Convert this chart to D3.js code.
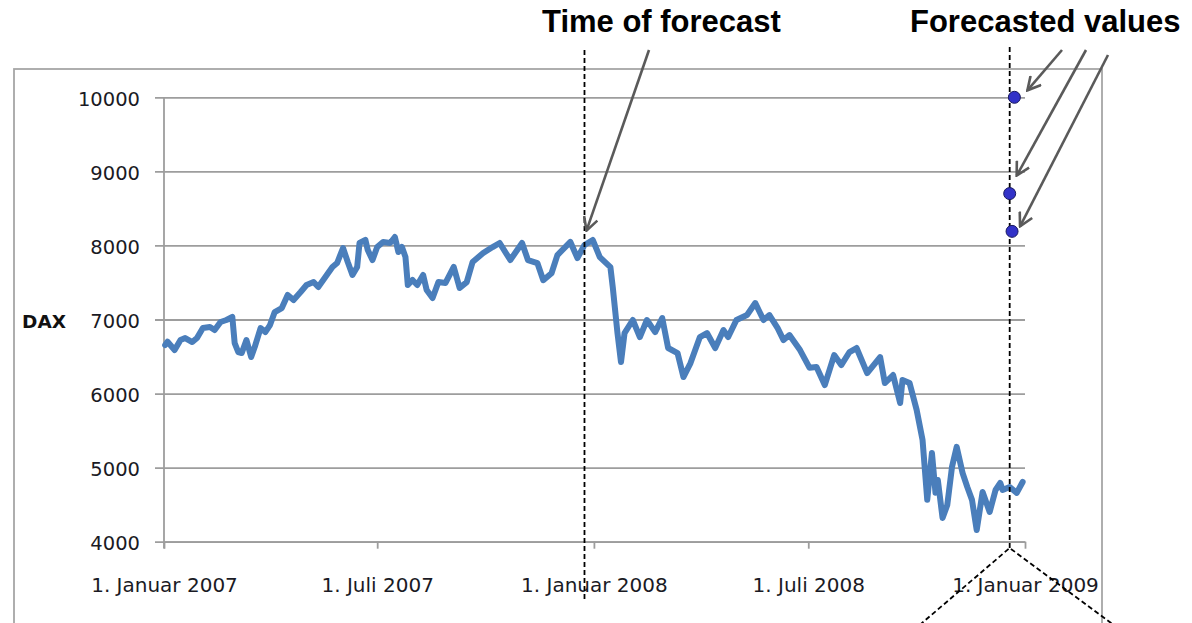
<!DOCTYPE html>
<html>
<head>
<meta charset="utf-8">
<script src="https://cdn.jsdelivr.net/npm/d3@7"></script>
<style>
  body { margin: 0; background: #fff; }
  svg { display: block; }
</style>
</head>
<body>
<svg width="1192" height="623"></svg>
<script>
// DAX closing values
var dates = [
  "2007-01-02","2007-01-04","2007-01-10","2007-01-15","2007-01-19","2007-01-25","2007-01-29","2007-02-03",
  "2007-02-09","2007-02-13","2007-02-18","2007-02-23","2007-02-28","2007-03-02","2007-03-05","2007-03-08",
  "2007-03-12","2007-03-16","2007-03-19","2007-03-24","2007-03-28","2007-04-01","2007-04-05","2007-04-11",
  "2007-04-16","2007-04-21","2007-04-27","2007-05-02","2007-05-08","2007-05-12","2007-05-18","2007-05-24",
  "2007-05-28","2007-06-02","2007-06-06","2007-06-10","2007-06-14","2007-06-16","2007-06-21","2007-06-23",
  "2007-06-27","2007-07-01","2007-07-06","2007-07-12","2007-07-16","2007-07-19","2007-07-22","2007-07-25",
  "2007-07-27","2007-07-31","2007-08-04","2007-08-09","2007-08-12","2007-08-17","2007-08-22","2007-08-28",
  "2007-09-04","2007-09-09","2007-09-15","2007-09-20","2007-09-29","2007-10-07","2007-10-13","2007-10-22",
  "2007-11-01","2007-11-06","2007-11-14","2007-11-19","2007-11-26","2007-12-01","2007-12-12","2007-12-18",
  "2007-12-24","2007-12-31","2008-01-06","2008-01-15","2008-01-17","2008-01-21","2008-01-24","2008-01-27",
  "2008-02-03","2008-02-09","2008-02-15","2008-02-22","2008-02-28","2008-03-04","2008-03-12","2008-03-17",
  "2008-03-23","2008-03-31","2008-04-06","2008-04-13","2008-04-20","2008-04-24","2008-05-01","2008-05-10",
  "2008-05-17","2008-05-24","2008-05-29","2008-06-05","2008-06-10","2008-06-15","2008-06-24","2008-07-02",
  "2008-07-08","2008-07-15","2008-07-23","2008-07-29","2008-08-05","2008-08-11","2008-08-20","2008-08-31",
  "2008-09-04","2008-09-11","2008-09-17","2008-09-19","2008-09-25","2008-10-01","2008-10-06","2008-10-10",
  "2008-10-14","2008-10-17","2008-10-19","2008-10-23","2008-10-27","2008-10-31","2008-11-04","2008-11-09",
  "2008-11-13","2008-11-17","2008-11-21","2008-11-26","2008-12-02","2008-12-07","2008-12-11","2008-12-13",
  "2008-12-19","2008-12-25","2008-12-30"
];
var dax = [
  6656,6700,6588,6723,6750,6696,6750,6885,
  6899,6858,6966,6993,7034,6682,6561,6547,
  6723,6493,6628,6885,6830,6925,7101,7155,
  7331,7263,7371,7466,7506,7439,7574,7709,
  7763,7965,7776,7601,7709,8033,8074,7938,
  7803,7979,8047,8033,8114,7911,7979,7844,
  7466,7533,7466,7601,7398,7290,7506,7493,
  7709,7425,7505,7776,7897,7978,8033,7803,
  8033,7803,7762,7530,7625,7870,8047,7830,
  8006,8074,7843,7708,7438,6817,6426,6817,
  6993,6763,6993,6830,7020,6615,6547,6223,
  6412,6763,6817,6615,6857,6763,6993,7060,
  7222,6993,7060,6884,6722,6790,6587,6350,
  6358,6115,6520,6385,6561,6615,6277,6493,
  6142,6250,5872,6183,6142,5780,5375,4565,
  5199,4660,4833,4320,4495,5008,5280,4928,
  4739,4565,4158,4671,4401,4698,4793,4698,
  4739,4660,4806
];

var forecastDates = ["2008-12-23","2008-12-19","2008-12-21"];
var forecastValues = [10000, 8700, 8190];

var forecastTime = "2007-12-24";   // "Time of forecast"
var forecastHorizon = "2008-12-19";

var yTicks = [4000,5000,6000,7000,8000,9000,10000];
var xTickDates = ["2007-01-01","2007-07-01","2008-01-01","2008-07-01","2009-01-01"];
var xTickLabels = ["1. Januar 2007","1. Juli 2007","1. Januar 2008","1. Juli 2008","1. Januar 2009"];

var parse = d3.timeParse("%Y-%m-%d");
var data = dates.map(function(d, i) { return { date: parse(d), value: dax[i] }; });
var fc = forecastDates.map(function(d, i) { return { date: parse(d), value: forecastValues[i] }; });

var svg = d3.select("svg");

var x = d3.scaleTime()
  .domain([parse("2007-01-01"), parse("2009-01-01")])
  .range([164, 1025]);
var y = d3.scaleLinear()
  .domain([4000, 10000])
  .range([541.7, 97.3]);

// outer chart border
svg.append("rect")
  .attr("x", 14).attr("y", 69)
  .attr("width", 1088).attr("height", 600)
  .attr("fill", "none")
  .attr("stroke", "#a6a6a6")
  .attr("stroke-width", 1.8);

// y axis with gridlines
var yAxis = svg.append("g")
  .attr("transform", "translate(155,0)")
  .call(d3.axisLeft(y).tickValues(yTicks).tickSize(-870).tickPadding(15).tickFormat(d3.format("d")));
yAxis.select(".domain").remove();
yAxis.selectAll("line").attr("stroke", "#9d9d9d").attr("stroke-width", 1.8);
yAxis.selectAll("text")
  .attr("font-family", "DejaVu Sans")
  .attr("font-size", 19.5)
  .attr("fill", "#1a1a24")
  .attr("dy", "0.42em");

// x axis
var xAxis = svg.append("g")
  .attr("transform", "translate(0,541.7)")
  .call(d3.axisBottom(x)
    .tickValues(xTickDates.map(parse))
    .tickSize(7).tickSizeOuter(0)
    .tickFormat(function(d, i) { return xTickLabels[i]; }));
xAxis.select(".domain").attr("stroke", "#9d9d9d").attr("stroke-width", 1.8);
xAxis.selectAll("line").attr("stroke", "#9d9d9d").attr("stroke-width", 1.8);
xAxis.selectAll("text")
  .attr("font-family", "DejaVu Sans")
  .attr("font-size", 20)
  .attr("fill", "#1a1a24")
  .attr("y", 50).attr("dy", 0);

// vertical value axis line
svg.append("line")
  .attr("x1", x.range()[0]).attr("x2", x.range()[0])
  .attr("y1", y(10000)).attr("y2", 548.5)
  .attr("stroke", "#9d9d9d").attr("stroke-width", 1.8);

svg.append("text")
  .attr("x", 44).attr("y", 321.7)
  .attr("dy", "0.36em")
  .attr("text-anchor", "middle")
  .attr("font-family", "DejaVu Sans")
  .attr("font-weight", "bold")
  .attr("font-size", 18.5)
  .attr("fill", "#111")
  .text("DAX");

// DAX line
var line = d3.line()
  .x(function(d) { return x(d.date); })
  .y(function(d) { return y(d.value); });

svg.append("path")
  .datum(data)
  .attr("d", line)
  .attr("fill", "none")
  .attr("stroke", "#4a7ebb")
  .attr("stroke-width", 6)
  .attr("stroke-linejoin", "round")
  .attr("stroke-linecap", "round");

// dashed markers
var xf = x(parse(forecastTime));
var xh = x(parse(forecastHorizon));
var dashStyle = function(s) {
  s.attr("stroke", "#000").attr("stroke-width", 1.8).attr("stroke-dasharray", "5,3").attr("fill", "none");
};
svg.append("line").attr("x1", xf).attr("x2", xf).attr("y1", 50).attr("y2", 600).call(dashStyle);
svg.append("line").attr("x1", xh).attr("x2", xh).attr("y1", 47).attr("y2", 548).call(dashStyle);
svg.append("path")
  .attr("d", "M" + (xh - 90) + ",625L" + xh + ",548L" + (xh + 104) + ",625")
  .call(dashStyle);

// forecasted points
svg.selectAll("circle.fc")
  .data(fc)
  .enter()
  .append("circle")
  .attr("class", "fc")
  .attr("cx", function(d) { return x(d.date); })
  .attr("cy", function(d) { return y(d.value); })
  .attr("r", 6)
  .attr("fill", "#3232c8")
  .attr("stroke", "#1a1a60")
  .attr("stroke-width", 1);

// arrows
svg.append("defs").append("marker")
  .attr("id", "head")
  .attr("viewBox", "0 0 16 16")
  .attr("markerUnits", "userSpaceOnUse")
  .attr("markerWidth", 16).attr("markerHeight", 16)
  .attr("refX", 14.5).attr("refY", 8)
  .attr("orient", "auto")
  .append("path")
  .attr("d", "M1.5,1L14.5,8L1.5,15")
  .attr("fill", "none")
  .attr("stroke", "#5a5a5a")
  .attr("stroke-width", 2.6);

var arrows = [
  { x1: 649, y1: 50, x2: xf + 2, y2: y(8200) },
  { x1: 1062, y1: 50, x2: x(fc[0].date) + 13, y2: y(fc[0].value) - 7 },
  { x1: 1086, y1: 50, x2: x(fc[1].date) + 7, y2: y(fc[1].value) - 18 },
  { x1: 1108, y1: 55, x2: x(fc[2].date) + 8, y2: y(fc[2].value) - 5 }
];
svg.selectAll("line.arrow")
  .data(arrows)
  .enter()
  .append("line")
  .attr("class", "arrow")
  .attr("x1", function(d) { return d.x1; })
  .attr("y1", function(d) { return d.y1; })
  .attr("x2", function(d) { return d.x2; })
  .attr("y2", function(d) { return d.y2; })
  .attr("stroke", "#5a5a5a")
  .attr("stroke-width", 2.6)
  .attr("marker-end", "url(#head)");

// annotations
svg.append("text")
  .attr("x", 542).attr("y", 32)
  .attr("font-family", "Liberation Sans, Arial, sans-serif")
  .attr("font-weight", "bold")
  .attr("font-size", 31)
  .attr("fill", "#000")
  .text("Time of forecast");
svg.append("text")
  .attr("x", 910).attr("y", 32)
  .attr("font-family", "Liberation Sans, Arial, sans-serif")
  .attr("font-weight", "bold")
  .attr("font-size", 31)
  .attr("fill", "#000")
  .text("Forecasted values");
</script>
</body>
</html>
